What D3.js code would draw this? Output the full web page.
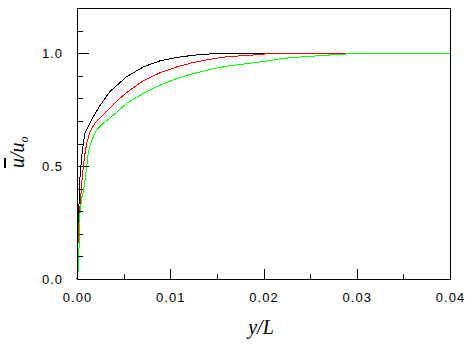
<!DOCTYPE html>
<html>
<head>
<meta charset="utf-8">
<style>
    body { margin: 0; background: #fff; }
    svg { display: block; }
    .tick text {
        font-family: 'Liberation Sans', Arial, sans-serif;
        font-size: 13px;
        letter-spacing: 1px;
        fill: #000;
    }
    .tick line { stroke: #000; shape-rendering: crispEdges; }
    .axis-title {
        font-family: 'Liberation Serif', 'Times New Roman', serif;
        font-style: italic;
        font-size: 20px;
    }
</style>
</head>
<body>
<svg width="472" height="345"></svg>
<script src="https://d3js.org/d3.v7.min.js"></script>
<script>
    // profiles: [y/L, u/uo]
    const blackProfile = [
        [0, 0], [0.00005, 0.1], [0.0001, 0.2], [0.00018, 0.3], [0.00025, 0.36],
        [0.00032, 0.45], [0.0005, 0.54], [0.00068, 0.6], [0.00086, 0.645],
        [0.0012, 0.674], [0.0016, 0.708], [0.0025, 0.77], [0.0035, 0.829],
        [0.0053, 0.895], [0.0071, 0.939], [0.0089, 0.966], [0.0107, 0.981],
        [0.0125, 0.991], [0.015, 0.999], [0.017, 1.0], [0.023, 1.0]
    ];
    const redProfile = [
        [0, 0], [0.00005, 0.08], [0.0001, 0.15], [0.00014, 0.19], [0.00025, 0.28],
        [0.0004, 0.364], [0.0005, 0.423], [0.00068, 0.497], [0.00086, 0.556],
        [0.00104, 0.6], [0.0014, 0.652], [0.0019, 0.689], [0.0026, 0.718],
        [0.0035, 0.756], [0.0046, 0.8], [0.0053, 0.825], [0.0071, 0.878],
        [0.0089, 0.913], [0.0107, 0.939], [0.0125, 0.959], [0.0143, 0.973],
        [0.016, 0.984], [0.0196, 0.994], [0.0205, 0.998], [0.024, 1.0], [0.03, 1.0]
    ];
    const greenProfile = [
        [0, 0], [0.0001, 0.02], [0.00025, 0.17], [0.00032, 0.29], [0.0005, 0.36],
        [0.00068, 0.385], [0.00086, 0.438], [0.00104, 0.497], [0.0012, 0.556],
        [0.00147, 0.6], [0.00175, 0.63], [0.0021, 0.659], [0.0028, 0.689],
        [0.0034, 0.708], [0.0043, 0.74], [0.0053, 0.777], [0.0071, 0.822],
        [0.0089, 0.858], [0.0107, 0.888], [0.0125, 0.91], [0.0143, 0.928],
        [0.016, 0.942], [0.0185, 0.955], [0.0203, 0.965], [0.0221, 0.977],
        [0.0239, 0.983], [0.0275, 0.993], [0.03, 0.999], [0.04, 1.0]
    ];

    const series = [
        { name: "black", color: "#000000", values: blackProfile },
        { name: "red", color: "#ff0000", values: redProfile },
        { name: "green", color: "#00ff00", values: greenProfile }
    ];

    const xMajor = [0, 0.01, 0.02, 0.03, 0.04];
    const xMinor = [0.005, 0.015, 0.025, 0.035];
    const yMajor = [0, 0.5, 1.0];
    const yMinor = [0.1, 0.2, 0.3, 0.4, 0.6, 0.7, 0.8, 0.9, 1.1];

    const margin = { top: 8, right: 22, bottom: 66, left: 77 };
    const width = 472, height = 345;

    const svg = d3.select("svg");

    const x = d3.scaleLinear()
        .domain([0, 0.04])
        .range([margin.left, width - margin.right]);

    const y = d3.scaleLinear()
        .domain([0, 1.2])
        .range([height - margin.bottom, margin.top]);

    // curves
    const line = d3.line()
        .x(d => x(d[0]))
        .y(d => y(d[1]));

    svg.append("g")
        .selectAll("path")
        .data(series)
        .join("path")
        .attr("fill", "none")
        .attr("stroke", d => d.color)
        .attr("stroke-width", 1)
        .style("shape-rendering", "crispEdges")
        .attr("d", d => line(d.values));

    // axes, ticks point inward
    svg.append("g")
        .attr("transform", `translate(0,${y(0)})`)
        .call(d3.axisBottom(x).tickValues(xMajor).tickSize(-10).tickPadding(14)
            .tickFormat(d3.format(".2f")))
        .call(g => g.select(".domain").remove());

    svg.append("g")
        .attr("transform", `translate(0,${y(0)})`)
        .call(d3.axisBottom(x).tickValues(xMinor).tickSize(-5).tickFormat(""))
        .call(g => g.select(".domain").remove());

    svg.append("g")
        .attr("transform", `translate(${x(0)},0)`)
        .call(d3.axisLeft(y).tickValues(yMajor).tickSize(-12).tickPadding(14)
            .tickFormat(d3.format(".1f")))
        .call(g => g.select(".domain").remove());

    svg.append("g")
        .attr("transform", `translate(${x(0)},0)`)
        .call(d3.axisLeft(y).tickValues(yMinor).tickSize(-6).tickFormat(""))
        .call(g => g.select(".domain").remove());

    // frame
    svg.append("rect")
        .attr("x", x(0))
        .attr("y", y(1.2))
        .attr("width", x(0.04) - x(0))
        .attr("height", y(0) - y(1.2))
        .attr("fill", "none")
        .attr("stroke", "#000")
        .style("shape-rendering", "crispEdges");

    // axis titles
    svg.append("text")
        .attr("class", "axis-title")
        .attr("x", 261)
        .attr("y", 334)
        .attr("text-anchor", "middle")
        .text("y/L");

    const yt = svg.append("text")
        .attr("class", "axis-title")
        .attr("transform", "translate(24,168) rotate(-90)");
    yt.append("tspan").style("text-decoration", "overline").text("u");
    yt.append("tspan").text("/u");
    yt.append("tspan").attr("dy", 4).style("font-size", "12px").text("o");
</script>
</body>
</html>
